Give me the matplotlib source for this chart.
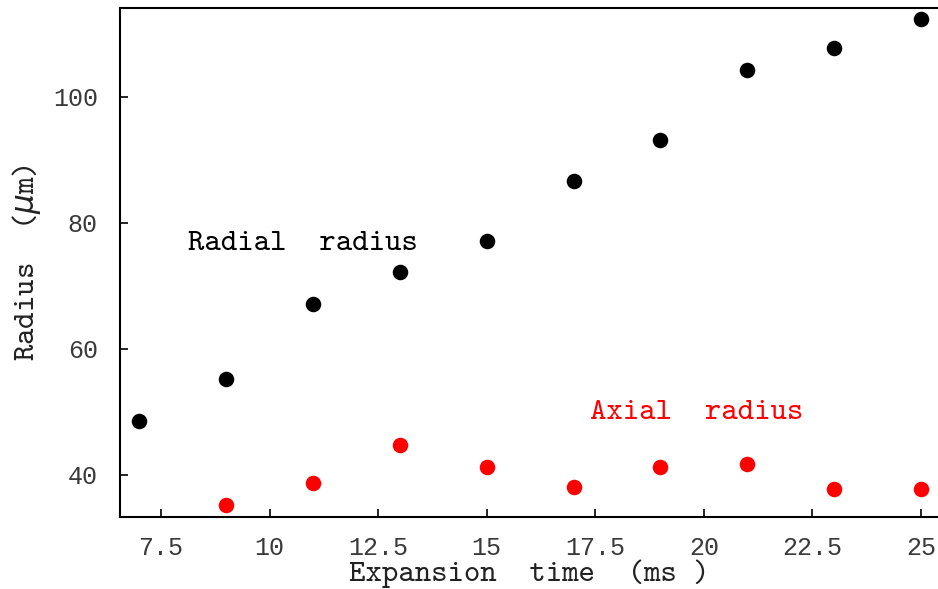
import matplotlib
matplotlib.use("Agg")
import matplotlib.pyplot as plt

# Expansion time (ms) and measured cloud radii (um)
time_radial = [7, 9, 11, 13, 15, 17, 19, 21, 23, 25]
radial_radius = [48.6, 55.2, 67.2, 72.2, 77.1, 86.6, 93.2, 104.3, 107.7, 112.4]

time_axial = [9, 11, 13, 15, 17, 19, 21, 23, 25]
axial_radius = [35.2, 38.7, 44.8, 41.3, 38.1, 41.3, 41.7, 37.8, 37.8]

x_ticks = [7.5, 10, 12.5, 15, 17.5, 20, 22.5, 25]
x_tick_labels = ["7.5", "10", "12.5", "15", "17.5", "20", "22.5", "25"]
y_ticks = [40, 60, 80, 100]

plt.rcParams["font.family"] = ["Liberation Mono", "DejaVu Sans"]
plt.rcParams["mathtext.fontset"] = "dejavusans"
plt.rcParams["axes.unicode_minus"] = False

# typewriter face for labels and annotations
tt = ["cmtt10", "Liberation Mono", "DejaVu Sans"]

W, H = 938, 589
fig = plt.figure(figsize=(W / 100, H / 100), dpi=100)
left, right, top, bottom = 120, 938, 8, 517
ax = fig.add_axes([left / W, 1 - bottom / H, (right - left) / W, (bottom - top) / H])

ax.scatter(time_radial, radial_radius, s=125, color="black", zorder=3, linewidths=0)
ax.scatter(time_axial, axial_radius, s=125, color="red", zorder=3, linewidths=0)

ax.set_xlim(6.556, 25.39)
ax.set_ylim(33.33, 114.1)

ax.set_xticks(x_ticks)
ax.set_xticklabels(x_tick_labels)
ax.set_yticks(y_ticks)

for side in ("left", "bottom", "top"):
    ax.spines[side].set_linewidth(1.5)
    ax.spines[side].set_color("black")
ax.spines["right"].set_visible(False)

ax.tick_params(direction="in", length=6, width=1.2, labelsize=18,
               labelcolor="#3a3a3a", top=False, right=False)
ax.tick_params(axis="x", pad=14)
ax.tick_params(axis="y", pad=16)

ax.set_xlabel("Expansion  time  (ms )", fontsize=22.5, family=tt,
              color="#222222", labelpad=-1)
ax.set_ylabel(r"Radius  ($\mu$m)", fontsize=22.5, family=tt,
              color="#222222", labelpad=7)

ax.text(8.12, 76.7, "Radial  radius", fontsize=22.5, family=tt,
        color="black", va="center", ha="left")
ax.text(17.38, 49.8, "Axial  radius", fontsize=22.5, family=tt,
        color="red", va="center", ha="left")

fig.savefig("out.png", dpi=100)
